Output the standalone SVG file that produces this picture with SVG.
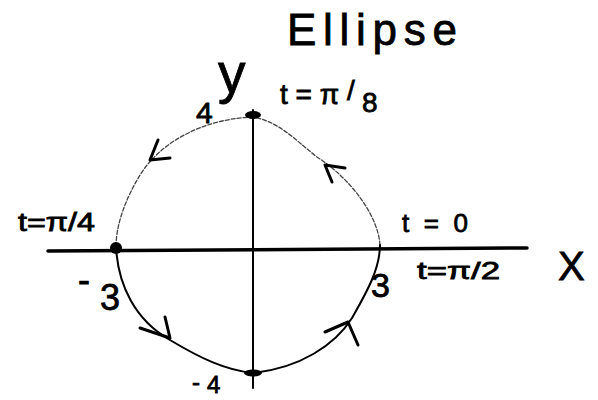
<svg xmlns="http://www.w3.org/2000/svg" width="598" height="400" viewBox="0 0 598 400">
  <style>
    .lbl { font-family: "Liberation Sans", "DejaVu Sans", sans-serif; fill: #000; stroke: #000; stroke-width: 0.8; }
    .axis { stroke: #000; fill: none; stroke-linecap: round; }
    .curve { stroke: #000; fill: none; stroke-linecap: round; stroke-linejoin: round; }
    .faint { stroke: #444; stroke-width: 1.3; stroke-dasharray: 4 2; }
    .solid { stroke-width: 2; }
    .head { stroke: #000; stroke-width: 3; fill: none; stroke-linecap: round; stroke-linejoin: round; }
    .dot { fill: #000; }
  </style>
  <rect width="598" height="400" fill="#fff"/>

  <g id="axes">
    <path class="axis" d="M48 251 L527 248" stroke-width="3.5"/>
    <path class="axis" d="M253 110 L253 388" stroke-width="2"/>
  </g>

  <g id="ellipse">
    <path class="curve faint" d="M253 117 C215 118 165 135 140 175 C125 200 116 225 116 247"/>
    <path class="curve faint" d="M380 245 C378 215 350 178 317 157 C295 140 280 122 253 117"/>
    <path class="curve solid" d="M116 247 C118 285 135 320 170 340 C200 358 225 370 253 373"/>
    <path class="curve solid" d="M253 373 C300 368 335 345 352 318 C365 295 380 270 380 245"/>
  </g>

  <g id="connectors">
    <polyline class="head" points="158,140 150,160 170,158"/>
    <polyline class="head" points="332,182 325,165 345,168"/>
    <polyline class="head" points="165,317 170,338 140,328"/>
    <polyline class="head" points="325,332 348,322 358,345"/>
  </g>

  <g id="points">
    <ellipse class="dot" cx="253" cy="115" rx="8" ry="4"/>
    <ellipse class="dot" cx="116" cy="248" rx="6" ry="6"/>
    <ellipse class="dot" cx="253" cy="373" rx="9" ry="3.5"/>
  </g>

  <g id="labels">
    <text class="lbl" x="287" y="45" font-size="44" textLength="170" lengthAdjust="spacing">Ellipse</text>
    <text class="lbl" x="218" y="92" font-size="55">y</text>
    <text class="lbl" x="196" y="123" font-size="30">4</text>
    <text class="lbl" font-size="28"><tspan x="280" y="104">t = π</tspan><tspan x="347" y="100">/</tspan><tspan x="362" y="112">8</tspan></text>
    <text class="lbl" x="18" y="231" font-size="26" textLength="77" lengthAdjust="spacingAndGlyphs">t=π/4</text>
    <text class="lbl" x="402" y="232" font-size="26" textLength="66" lengthAdjust="spacing">t=0</text>
    <text class="lbl" x="417" y="279" font-size="24" textLength="83" lengthAdjust="spacingAndGlyphs">t=π/2</text>
    <text class="lbl" x="558" y="280" font-size="40">X</text>
    <text class="lbl" font-size="36"><tspan x="78" y="292">-</tspan><tspan x="100" y="310">3</tspan></text>
    <text class="lbl" x="371" y="297" font-size="34">3</text>
    <text class="lbl" font-size="24"><tspan x="192" y="390">-</tspan><tspan x="207" y="393">4</tspan></text>
  </g>
</svg>
